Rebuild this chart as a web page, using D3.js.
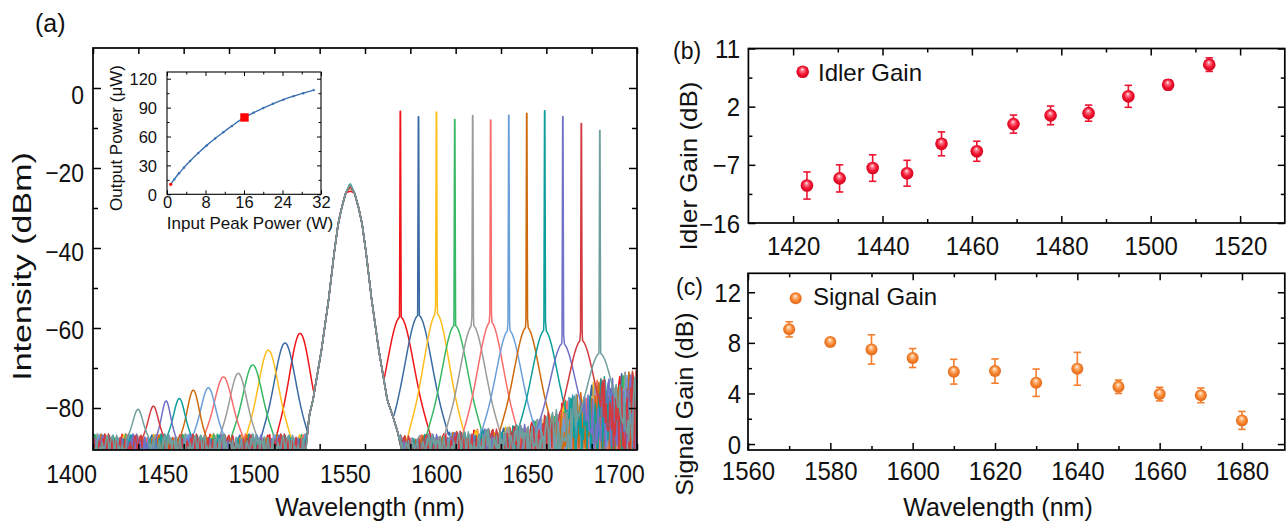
<!DOCTYPE html>
<html><head><meta charset="utf-8">
<script src="https://cdn.jsdelivr.net/npm/d3@7"></script>
<style>
body{margin:0;background:#fff;}
svg text{font-family:Arial,"Liberation Sans",Helvetica,sans-serif;fill:#111;}
</style></head><body>
<svg id="c" width="1286" height="521"></svg>
<script>
// ================= DATA =================
// Panel (a): 12 spectra (drawing order), features
const specColors = ["#F01418","#3A6AA2","#FFBE1C","#37B864","#9B9B9B","#F96C6C","#6B9FD9","#CF6A0C","#0C9E9A","#7171C9","#D23A40","#6F9F9C"];
const signalWl = [1569.5,1579.5,1589.4,1599.5,1609.4,1619.3,1629.3,1639.2,1649.1,1659.1,1669.3,1679.5];
const signalPeak = [-5.8,-7.2,-6.0,-7.9,-6.9,-8.0,-6.8,-6.3,-5.7,-7.1,-8.9,-10.6];
const signalShoulder = [-57.2,-56.8,-56.3,-59.3,-59.3,-58.4,-60.5,-59.7,-60.5,-63.8,-63.0,-66.3];
const signalHalfWidth = [17,17,16,16,16,16,16,16,16,16,16,16];
const idlerWl = [1514.2,1505.9,1496.7,1488.1,1480.1,1471.9,1463.6,1455.3,1447.6,1440.3,1433.3,1424.8];
const idlerPeak = [-61.3,-63.7,-65.5,-69.2,-71.3,-72.2,-74.9,-75.5,-77.6,-78.2,-79.5,-80.3];
const idlerHalfWidth = [13.3,13.3,12.5,12,10.5,11,9,7.3,7,5.5,6,6];
const pumpPeak = [-25.8,-25.0,-24.8,-24.6,-24.5,-24.6,-24.3,-24.5,-23.8,-24.2,-24.5,-24.0];
const pumpWl  = [1515.8,1517.5,1519.2,1521.3,1526.0,1529.9,1533.2,1535.2,1537.1,1539.4,1541.8,1544.2,1546.5,1548.4,1550.4,1553.7,1557.6,1562.3,1565.3,1568.0,1569.9,1571.0];
const pumpDbm = [-93,-90,-82,-78,-65.5,-53,-40.5,-34,-30,-26.2,-24.2,-26.2,-30,-34,-40.5,-53,-65.5,-78,-82,-86,-90,-93];
const PUMP_TOP = 10;
// normalised bell shape of the idler / signal pedestals (distance / half-width -> fraction of height)
const bumpShapeX = [0,0.05,0.1,0.15,0.2,0.25,0.3,0.35,0.4,0.45,0.5,0.55,0.6,0.65,0.7,0.75,0.8,0.85,0.9,0.95,1];
const bumpShapeY = [1,0.993,0.973,0.94,0.897,0.845,0.786,0.722,0.655,0.587,0.52,0.455,0.392,0.333,0.278,0.228,0.18,0.135,0.09,0.045,0];
// noise floor: upper edge of the noise band and a fixed jitter pattern
const floorWl  = [1400,1518,1580,1600,1630,1645,1655,1665,1675,1685,1700];
const floorTop = [-87.2,-87.2,-87.4,-86.6,-85.2,-83.5,-80.5,-77,-74,-72,-71];
const floorJitter = [0.62,0.18,0.85,0.40,0.93,0.27,0.71,0.05,0.56,0.98,0.33,0.77,0.12,0.66,0.89,0.44,0.21,0.95,0.58,0.08,
 0.73,0.36,0.91,0.49,0.15,0.82,0.61,0.29,0.97,0.52,0.03,0.69,0.38,0.87,0.24,0.79,0.46,0.11,0.94,0.57,
 0.31,0.84,0.68,0.19,0.99,0.42,0.74,0.07,0.63,0.35,0.88,0.53,0.16,0.81,0.26,0.92,0.47,0.72,0.02,0.59,
 0.39,0.86,0.22,0.67,0.96,0.34,0.78,0.13,0.55,0.83,0.28,0.90,0.45,0.64,0.09,0.76,0.37,0.98,0.51,0.20,
 0.70,0.43,0.87,0.14,0.60,0.32,0.80,0.25,0.94,0.48,0.06,0.75,0.54,0.30,0.89,0.41,0.65];
const xTickA = [1400,1425,1450,1475,1500,1525,1550,1575,1600,1625,1650,1675,1700];
const xLabelA = [1400,1450,1500,1550,1600,1650,1700];
const yMajorA = [-80,-60,-40,-20,0];
const yMinorA = [-70,-50,-30,-10];

// Inset
const insetIn  = [0.77,1.5,2.5,3.5,4.8,6.5,8.25,10,11.7,13.5,16.1,18,20,22,24.2,26.3,28.3,30.5];
const insetOut = [10.4,15.5,21.8,27.5,34.5,42.8,50.8,58,64.5,71,79.8,84.8,89.6,94,98.3,101.9,105,108.2];
const insetMark = [16.1,79.8];
const insetXMajor=[0,8,16,24,32], insetXMinor=[4,12,20,28];
const insetYMajor=[0,30,60,90,120], insetYMinor=[15,45,75,105];

// Panel (b): idler gain
const idlerGainWl = [1423.1,1430.4,1437.8,1445.5,1453.2,1461.1,1469.3,1477.6,1486.1,1495.0,1503.9,1513.1];
const idlerGain   = [-10.2,-9.1,-7.5,-8.3,-3.75,-4.9,-0.7,0.65,1.0,3.6,5.4,8.5];
const idlerErr    = [2.1,2.1,2.05,2.0,1.85,1.55,1.4,1.45,1.25,1.7,0.75,1.05];
const xMajorB=[1420,1440,1460,1480,1500,1520], xMinorB=[1430,1450,1470,1490,1510];
const yMajorB=[-16,-7,2,11], yMinorB=[-11.5,-2.5,6.5];

// Panel (c): signal gain
const signalGainWl = [1570,1580,1590,1600,1610,1620,1630,1640,1650,1660,1670,1680];
const signalGain   = [9.07,8.06,7.48,6.8,5.72,5.77,4.85,5.95,4.53,3.95,3.85,1.87];
const signalErr    = [0.6,0.22,1.16,0.75,0.98,0.96,1.08,1.3,0.53,0.54,0.58,0.71];
const xMajorC=[1560,1580,1600,1620,1640,1660,1680], xMinorC=[1570,1590,1610,1630,1650,1670];
const yMajorC=[0,4,8,12], yMinorC=[2,6,10];

// ================= DRAWING =================
const svg=d3.select('#c');
svg.append('rect').attr('width',1286).attr('height',521).attr('fill','#fff');
const defs=svg.append('defs');
defs.append('clipPath').attr('id','clipA').append('rect').attr('x',93).attr('y',48).attr('width',544).attr('height',402);

function txt(x,y,s,size,o={}){
  const g=svg.append('g').attr('transform',`translate(${x},${y})`);
  const t=g.append('text').text(s).attr('font-size',size).attr('text-anchor',o.anchor||'start');
  let tr='';
  if(o.sx) tr+=`scale(${o.sx},1) `;
  if(o.rot) tr+=`rotate(${o.rot})`;
  if(tr) t.attr('transform',tr);
  return t;
}
function ticks(axisFn, scale, vals, len, tx, ty, sw){
  const g=svg.append('g').attr('transform',`translate(${tx},${ty})`)
    .call(axisFn(scale).tickValues(vals).tickSize(-len).tickFormat(''));
  g.select('.domain').remove();
  g.selectAll('line').attr('stroke','#000').attr('stroke-width',sw||1.5);
}
function xLabels(scale, vals, baseline, size, sx){
  const g=svg.append('g').attr('transform',`translate(0,${baseline})`)
    .call(d3.axisBottom(scale).tickValues(vals).tickSize(0).tickPadding(0).tickFormat(d3.format('d')));
  g.select('.domain').remove();
  g.selectAll('text').attr('y',0).attr('dy',0).attr('font-size',size)
    .attr('font-family','Arial,"Liberation Sans",sans-serif').attr('fill','#111')
    .attr('transform',sx?`scale(${sx},1)`:null);
}
function yLabels(scale, vals, right, size, sx){
  const g=svg.append('g').attr('transform',`translate(${right},0)`)
    .call(d3.axisLeft(scale).tickValues(vals).tickSize(0).tickPadding(0).tickFormat(d3.format('d')));
  g.select('.domain').remove();
  g.selectAll('text').attr('x',0).attr('dy','0.36em').attr('font-size',size)
    .attr('font-family','Arial,"Liberation Sans",sans-serif').attr('fill','#111')
    .attr('text-anchor','end').attr('transform',sx?`scale(${sx},1)`:null);
}

// ---------- Panel (a) ----------
const xA=d3.scaleLinear([1400,1700],[93,637]);
const yA=d3.scaleLinear([-90.5,10],[450,48]);
const xAL=d3.scaleLinear([1400,1700],[71.1,618.7]);   // label positions as printed
const yAL=d3.scaleLinear([0,-80],[94.5,407]);

const prof=d3.scaleLinear(bumpShapeX,bumpShapeY).clamp(true);
const floorAt=d3.scaleLinear(floorWl,floorTop).clamp(true);
const BASE=-87.5;
function spectrum(i){
  const pv=pumpDbm.map((v,k)=>k===PUMP_TOP?pumpPeak[i]:v);
  const pf=d3.scaleLinear(pumpWl,pv);
  const pts=[];
  const s=signalWl[i];
  for(let k=0;k<=600;k++){
    const wl=1400+k*0.5;
    if(Math.abs(wl-s)<0.45) continue;
    const top=floorAt(wl);
    const j=floorJitter[(k*7+i*23)%floorJitter.length];
    let v=top+0.8-j*(top+93);
    const di=Math.abs(wl-idlerWl[i])/idlerHalfWidth[i];
    if(di<1) v=Math.max(v,BASE+(idlerPeak[i]-BASE)*prof(di));
    const ds=Math.abs(wl-s)/signalHalfWidth[i];
    if(ds<1) v=Math.max(v,BASE+(signalShoulder[i]-BASE)*prof(ds));
    if(wl>=pumpWl[0]&&wl<=pumpWl[pumpWl.length-1]) v=Math.max(v,pf(wl));
    pts.push([wl,v]);
  }
  pts.push([s-0.45,signalShoulder[i]+2],[s-0.1,signalPeak[i]],[s+0.1,signalPeak[i]],[s+0.45,signalShoulder[i]+2]);
  pts.sort((a,b)=>a[0]-b[0]);
  return pts;
}
const lineA=d3.line().x(d=>xA(d[0])).y(d=>yA(d[1]));
const gS=svg.append('g').attr('clip-path','url(#clipA)');
specColors.forEach((c,i)=>{
  gS.append('path').attr('d',lineA(spectrum(i))).attr('fill','none')
    .attr('stroke',c).attr('stroke-width',1.5).attr('stroke-linejoin','round');
});
// frame & ticks (a)
svg.append('rect').attr('x',93).attr('y',48).attr('width',544).attr('height',402)
  .attr('fill','none').attr('stroke','#000').attr('stroke-width',1.7);
ticks(d3.axisBottom,xA,xTickA,6,0,450);
ticks(d3.axisTop,xA,xTickA,6,0,48);
ticks(d3.axisLeft,yA,yMajorA,8,93,0);
ticks(d3.axisLeft,yA,yMinorA,5,93,0);
ticks(d3.axisRight,yA,yMajorA,8,637,0);
ticks(d3.axisRight,yA,yMinorA,5,637,0);
xLabels(xAL,xLabelA,482.7,26,0.88);
yLabels(yAL,yMajorA,84,26,0.88);
txt(370,516,'Wavelength (nm)',25,{anchor:'middle'});
txt(31,266.5,'Intensity (dBm)',34,{anchor:'middle',rot:-90,sx:0.78});
txt(35,31.7,'(a)',25);

// ---------- Inset ----------
const xI=d3.scaleLinear([0,32],[167,321]);
const yI=d3.scaleLinear([0,127],[194.3,72]);
svg.append('rect').attr('x',167).attr('y',72).attr('width',154).attr('height',122.3)
  .attr('fill','#fff').attr('stroke','#000').attr('stroke-width',1.1);
ticks(d3.axisBottom,xI,insetXMajor,4,0,194.3,1);
ticks(d3.axisBottom,xI,insetXMinor,2.5,0,194.3,1);
ticks(d3.axisTop,xI,insetXMajor,4,0,72,1);
ticks(d3.axisTop,xI,insetXMinor,2.5,0,72,1);
ticks(d3.axisLeft,yI,insetYMajor,4,167,0,1);
ticks(d3.axisLeft,yI,insetYMinor,2.5,167,0,1);
ticks(d3.axisRight,yI,insetYMajor,4,321,0,1);
ticks(d3.axisRight,yI,insetYMinor,2.5,321,0,1);
const inData=insetIn.map((v,k)=>[v,insetOut[k]]);
svg.append('path').attr('d',d3.line().x(d=>xI(d[0])).y(d=>yI(d[1])).curve(d3.curveMonotoneX)(inData))
  .attr('fill','none').attr('stroke','#3A6FB0').attr('stroke-width',1.4);
svg.selectAll('.idot').data(inData.slice(1)).join('circle').attr('cx',d=>xI(d[0])).attr('cy',d=>yI(d[1]))
  .attr('r',1.2).attr('fill','#3A6FB0');
svg.append('circle').attr('cx',xI(inData[0][0])).attr('cy',yI(inData[0][1])).attr('r',1.6).attr('fill','#f00');
svg.append('rect').attr('x',xI(insetMark[0])-4.2).attr('y',yI(insetMark[1])-4.2).attr('width',8.4).attr('height',8.4).attr('fill','#f00');
xLabels(xI,insetXMajor,207.5,16.5);
yLabels(yI,insetYMajor,157,16.5);
txt(250,229,'Input Peak Power (W)',17,{anchor:'middle'});
txt(122,138,'Output Power (μW)',17,{anchor:'middle',rot:-90});

// ---------- balls ----------
function ballGrad(id,c0,c1,c2,c3){
  const g=defs.append('radialGradient').attr('id',id).attr('cx','50%').attr('cy','50%').attr('r','55%').attr('fx','46%').attr('fy','30%');
  g.append('stop').attr('offset','0%').attr('stop-color',c0);
  g.append('stop').attr('offset','22%').attr('stop-color',c1);
  g.append('stop').attr('offset','60%').attr('stop-color',c2);
  g.append('stop').attr('offset','100%').attr('stop-color',c3);
}
ballGrad('gR','#ffffff','#ff7a8c','#F0132E','#CC001C');
ballGrad('gO','#ffffff','#ffbf8a','#F5822C','#DD6418');
function errPoints(xs,ys,vals,errs,wls,color,grad,r){
  const g=svg.append('g');
  const d=wls.map((w,k)=>({w,v:vals[k],e:errs[k]}));
  g.selectAll('.eb').data(d).join('line').attr('x1',p=>xs(p.w)).attr('x2',p=>xs(p.w))
    .attr('y1',p=>ys(p.v-p.e)).attr('y2',p=>ys(p.v+p.e)).attr('stroke',color).attr('stroke-width',1.6);
  [1,-1].forEach(sg=>{
    g.selectAll('.cap'+sg).data(d).join('line').attr('x1',p=>xs(p.w)-3.7).attr('x2',p=>xs(p.w)+3.7)
      .attr('y1',p=>ys(p.v+sg*p.e)).attr('y2',p=>ys(p.v+sg*p.e)).attr('stroke',color).attr('stroke-width',1.6);
  });
  g.selectAll('.ball').data(d).join('circle').attr('cx',p=>xs(p.w)).attr('cy',p=>ys(p.v))
    .attr('r',r).attr('fill',`url(#${grad})`);
}

// ---------- Panel (b) ----------
const xB=d3.scaleLinear([1410,1530],[748.4,1284.8]);
const yB=d3.scaleLinear([-16,11],[223,48.5]);
svg.append('rect').attr('x',748.4).attr('y',48.5).attr('width',536.4).attr('height',174.5)
  .attr('fill','none').attr('stroke','#000').attr('stroke-width',1.7);
ticks(d3.axisBottom,xB,xMajorB,7,0,223); ticks(d3.axisBottom,xB,xMinorB,4,0,223);
ticks(d3.axisTop,xB,xMajorB,7,0,48.5);   ticks(d3.axisTop,xB,xMinorB,4,0,48.5);
ticks(d3.axisLeft,yB,yMajorB,7,748.4,0); ticks(d3.axisLeft,yB,yMinorB,4,748.4,0);
ticks(d3.axisRight,yB,yMajorB,7,1284.8,0); ticks(d3.axisRight,yB,yMinorB,4,1284.8,0);
xLabels(xB,xMajorB,255,25,0.96);
yLabels(yB,yMajorB,740,25,0.96);
errPoints(xB,yB,idlerGain,idlerErr,idlerGainWl,'#EC1530','gR',6.3);
svg.append('circle').attr('cx',802.7).attr('cy',71.7).attr('r',6.3).attr('fill','url(#gR)');
txt(818,81,'Idler Gain',24);
txt(673,58.5,'(b)',23);
txt(696.5,166,'Idler Gain (dB)',26,{anchor:'middle',rot:-90,sx:0.95});

// ---------- Panel (c) ----------
const xC=d3.scaleLinear([1560,1690.4],[748,1284.8]);
const yC=d3.scaleLinear([-0.47,13.5],[450,273.3]);
svg.append('rect').attr('x',748).attr('y',273.3).attr('width',536.8).attr('height',176.7)
  .attr('fill','none').attr('stroke','#000').attr('stroke-width',1.7);
ticks(d3.axisBottom,xC,xMajorC,7,0,450); ticks(d3.axisBottom,xC,xMinorC,4,0,450);
ticks(d3.axisTop,xC,xMajorC,7,0,273.3);  ticks(d3.axisTop,xC,xMinorC,4,0,273.3);
ticks(d3.axisLeft,yC,yMajorC,7,748,0);   ticks(d3.axisLeft,yC,yMinorC,4,748,0);
ticks(d3.axisRight,yC,yMajorC,7,1284.8,0); ticks(d3.axisRight,yC,yMinorC,4,1284.8,0);
xLabels(xC,xMajorC,480,25,0.96);
yLabels(yC,yMajorC,741,25,0.96);
errPoints(xC,yC,signalGain,signalErr,signalGainWl,'#F27E2E','gO',6);
svg.append('circle').attr('cx',795.7).attr('cy',298.3).attr('r',6).attr('fill','url(#gO)');
txt(813,305,'Signal Gain',24);
txt(676,294.5,'(c)',23);
txt(692.5,404,'Signal Gain (dB)',25,{anchor:'middle',rot:-90,sx:0.95});
txt(998,516,'Wavelength (nm)',25,{anchor:'middle'});
</script>
</body></html>
